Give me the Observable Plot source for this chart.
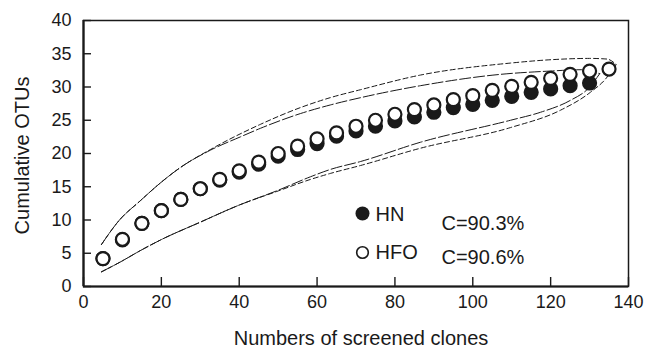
<!DOCTYPE html>
<html><head><meta charset="utf-8">
<script src="https://cdn.jsdelivr.net/npm/d3@7"></script>
<script src="https://cdn.jsdelivr.net/npm/@observablehq/plot@0.6"></script>
<style>body{margin:0;background:#fff} svg{display:block}</style>
</head><body><div id="chart"></div>
<script>
const clones = [5,10,15,20,25,30,35,40,45,50,55,60,65,70,75,80,85,90,95,100,105,110,115,120,125,130,135];
const hn = [4.2,7.0,9.5,11.4,13.1,14.7,16.0,17.2,18.4,19.6,20.6,21.5,22.6,23.4,24.1,24.9,25.5,26.2,26.9,27.4,28.0,28.6,29.2,29.7,30.2,30.6];
const hfo = [4.2,7.1,9.5,11.4,13.1,14.7,16.1,17.4,18.7,20.0,21.1,22.2,23.1,24.1,25.0,25.9,26.6,27.3,28.1,28.7,29.5,30.1,30.7,31.3,31.9,32.4,32.7];
const xTicks = [0,20,40,60,80,100,120,140];
const yTicks = [0,5,10,15,20,25,30,35,40];
// envelope curves (x, y pairs)
const outerUpper = [[4.6,6.3],[9.1,9.9],[14.6,12.9],[19.6,15.5],[24.9,17.9],[32.6,20.6],[45.5,24.4],[55.7,26.9],[63.4,28.4],[71.2,29.6],[86.6,31.8],[109.7,33.6],[120,34.1],[130,34.3],[134.5,34.2],[136.8,33.4]];
const outerLower = [[4.6,2.2],[9.5,3.7],[14.6,5.4],[19.8,7.0],[30.1,9.7],[39.8,12.2],[49.7,14.3],[58.3,16.1],[63.4,17.0],[71.2,18.2],[86.6,20.8],[109.7,23.9],[122.5,26.5],[130.2,29.2],[134.1,31.2],[136.8,33.4]];
const innerUpper = [[4.6,6.3],[9.1,9.9],[14.6,12.9],[19.6,15.5],[24.9,17.9],[32.6,20.5],[40.3,22.5],[45.5,23.8],[55.7,26.0],[63.4,27.3],[71.2,28.4],[86.6,30.2],[107.1,31.9],[120,32.4],[128,32.6],[132.6,32.0]];
const innerLower = [[4.6,2.2],[9.5,3.7],[14.6,5.4],[19.8,7.0],[30.1,9.7],[39.8,12.2],[49.7,14.4],[58.3,16.5],[63.4,17.6],[71.2,18.8],[86.6,21.7],[109.7,25.0],[117.4,26.2],[125.1,28.0],[129.7,29.8],[132.6,32.0]];
const seriesNames = ["HN","HFO"];
const coverage = ["C=90.3%","C=90.6%"];
const xTitle = "Numbers of screened clones";
const yTitle = "Cumulative OTUs";

const hnData = hn.map((v,i)=>({x: clones[i], y: v}));
const hfoData = hfo.map((v,i)=>({x: clones[i], y: v}));
const ink = "#1a1a1a";
const W = 646, H = 352, mL = 83, mR = 18, mT = 20, mB = 66;
const fw = W - mL - mR, fh = H - mT - mB;
const xDomain = [0,140], yDomain = [0,40];
// inward tick lengths, converted from pixels into data units
const xTickLen = (yDomain[1]-yDomain[0]) * 9 / fh;
const yTickLen = (xDomain[1]-xDomain[0]) * 8 / fw;

const env = (data, dash) => Plot.line(data, {x: d=>d[0], y: d=>d[1], curve: "monotone-x", stroke: ink, strokeWidth: 1, strokeDasharray: dash});

const chart = Plot.plot({
  width: W, height: H,
  marginLeft: mL, marginRight: mR, marginTop: mT, marginBottom: mB,
  style: {fontFamily: "'Liberation Sans', Arial, Helvetica, sans-serif", fontSize: "18px", color: ink, background: "#fff"},
  x: {domain: xDomain},
  y: {domain: yDomain},
  marks: [
    Plot.axisX({ticks: xTicks, tickSize: 0, tickPadding: 9, label: null, fontSize: 18}),
    Plot.axisY({ticks: yTicks, tickSize: 0, tickPadding: 12, label: null, fontSize: 18}),
    Plot.ruleX(xTicks, {x: d=>d, y1: yDomain[0], y2: yDomain[0] + xTickLen, stroke: ink, strokeWidth: 1.4}),
    Plot.ruleY(yTicks, {y: d=>d, x1: xDomain[0], x2: xDomain[0] + yTickLen, stroke: ink, strokeWidth: 1.4}),
    Plot.frame({stroke: ink, strokeWidth: 1.5}),
    Plot.ruleY([0], {stroke: ink, strokeWidth: 2.2}),
    Plot.ruleX([0], {stroke: ink, strokeWidth: 2.2}),
    env(outerUpper, "5,3"),
    env(outerLower, "5,3"),
    env(innerUpper, "11,3"),
    env(innerLower, "11,3"),
    Plot.dot(hnData, {x: "x", y: "y", r: 6.5, fill: ink, stroke: ink, strokeWidth: 2.2}),
    Plot.dot(hfoData, {x: "x", y: "y", r: 6.5, fill: "#fff", stroke: ink, strokeWidth: 2.2}),
    // legend
    Plot.dot([seriesNames[0]], {frameAnchor: "top-left", dx: 279, dy: 193, r: 7, fill: ink}),
    Plot.dot([seriesNames[1]], {frameAnchor: "top-left", dx: 279, dy: 232, r: 5.8, fill: "#fff", stroke: ink, strokeWidth: 1.6}),
    Plot.text([seriesNames[0]], {text: d=>d, frameAnchor: "top-left", dx: 292, dy: 194, textAnchor: "start", lineAnchor: "middle", fontSize: 20, fill: ink}),
    Plot.text([seriesNames[1]], {text: d=>d, frameAnchor: "top-left", dx: 292, dy: 232, textAnchor: "start", lineAnchor: "middle", fontSize: 20, fill: ink}),
    Plot.text([coverage[0]], {text: d=>d, frameAnchor: "top-left", dx: 358, dy: 203, textAnchor: "start", lineAnchor: "middle", fontSize: 20, fill: ink}),
    Plot.text([coverage[1]], {text: d=>d, frameAnchor: "top-left", dx: 358, dy: 237, textAnchor: "start", lineAnchor: "middle", fontSize: 20, fill: ink}),
    // axis titles
    Plot.text([xTitle], {text: d=>d, frameAnchor: "bottom", dx: 5, dy: 52, textAnchor: "middle", lineAnchor: "middle", fontSize: 20, fill: ink, letterSpacing: "0.9px"}),
    Plot.text([yTitle], {text: d=>d, frameAnchor: "left", dx: -61, dy: 2, rotate: -90, textAnchor: "middle", lineAnchor: "middle", fontSize: 20, fill: ink, letterSpacing: "0.8px"})
  ]
});
document.getElementById("chart").appendChild(chart);
</script>
</body></html>
